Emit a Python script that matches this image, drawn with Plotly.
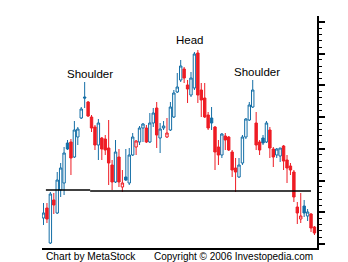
import plotly.graph_objects as go

# ---- data (arbitrary price units) ----
day = list(range(1, 81))
open_ = [32, 42, 7, 50, 37, 60, 67, 107, 108, 93, 113, 132, 153, 148, 133, 123, 105, 112, 111, 102,
         85, 68, 93, 63, 73, 67, 95, 103, 108, 122, 122, 108, 127, 142, 112, 122, 113, 120, 133, 158,
         170, 181, 165, 155, 162, 197, 160, 152, 135, 132, 123, 103, 95, 114, 113, 98, 82, 73, 87, 113,
         130, 143, 127, 108, 112, 108, 120, 101, 95, 94, 104, 90, 84, 78, 43, 31, 44, 34, 36, 23]
high = [47, 47, 58, 57, 78, 87, 103, 110, 111, 129, 123, 143, 168, 149, 135, 125, 131, 113, 115, 130,
        90, 110, 101, 80, 101, 102, 117, 110, 124, 127, 125, 137, 142, 148, 127, 129, 132, 148, 160, 177,
        190, 183, 170, 178, 198, 200, 167, 167, 138, 143, 124, 110, 117, 117, 114, 100, 92, 92, 115, 132,
        148, 170, 138, 110, 115, 129, 123, 103, 102, 102, 105, 95, 87, 80, 48, 57, 50, 41, 37, 24]
low = [25, 27, 6, 36, 36, 53, 55, 100, 75, 92, 105, 131, 142, 133, 118, 100, 90, 90, 95, 65,
       60, 67, 63, 58, 69, 65, 94, 95, 105, 108, 107, 107, 123, 102, 97, 120, 112, 119, 132, 157,
       168, 167, 147, 153, 160, 147, 133, 132, 120, 120, 80, 85, 92, 100, 99, 73, 58, 72, 85, 111,
       129, 142, 100, 95, 105, 107, 92, 83, 92, 88, 80, 67, 75, 48, 26, 27, 33, 29, 18, 15]
close = [37, 31, 56, 45, 70, 82, 97, 101, 92, 120, 121, 141, 152, 134, 122, 105, 127, 101, 100, 87,
         68, 98, 68, 67, 70, 95, 113, 109, 122, 126, 108, 127, 137, 115, 121, 124, 117, 143, 157, 163,
         184, 172, 161, 172, 196, 155, 150, 133, 122, 127, 98, 95, 116, 110, 100, 80, 78, 85, 113, 131,
         145, 160, 105, 100, 107, 127, 102, 93, 101, 102, 89, 82, 80, 53, 37, 34, 37, 38, 22, 17]

neck_x = [1.7, 14.6, 79.0]      # neckline segment breakpoints (day units)
neck_y = [60, 59]               # neckline levels per segment

labels = ["Shoulder", "Head", "Shoulder"]
label_x = [14.5, 43.7, 63.3]
label_y = [176.5, 210.5, 178.5]

BLUE = "#146ea6"
RED = "#ee1c24"

n = len(day)
blue_idx = [i for i in range(n) if i == 0 or close[i] >= close[i - 1]]
red_idx = [i for i in range(n) if i not in blue_idx]


def sub(arr, idx):
    return [arr[i] for i in idx]


fig = go.Figure()
for idx, col in ((blue_idx, BLUE), (red_idx, RED)):
    fig.add_trace(go.Candlestick(
        x=sub(day, idx), open=sub(open_, idx), high=sub(high, idx),
        low=sub(low, idx), close=sub(close, idx),
        increasing=dict(line=dict(color=col, width=1), fillcolor="white"),
        decreasing=dict(line=dict(color=col, width=1), fillcolor=col),
        whiskerwidth=0, showlegend=False, hoverinfo="skip",
    ))

for k in range(len(neck_y)):
    fig.add_shape(type="line", x0=neck_x[k], x1=neck_x[k + 1], y0=neck_y[k], y1=neck_y[k],
                  line=dict(color="black", width=1.3), layer="above")

for t, xx, yy in zip(labels, label_x, label_y):
    fig.add_annotation(x=xx, y=yy, text=t, showarrow=False,
                       font=dict(family="Liberation Sans, Arial", size=11.5, color="black"))

fig.add_annotation(xref="paper", yref="paper", x=0.008, y=-0.037, xanchor="left", yanchor="middle",
                   text="Chart by MetaStock", showarrow=False,
                   font=dict(family="Liberation Sans, Arial", size=10.2, color="black"))
fig.add_annotation(xref="paper", yref="paper", x=0.4, y=-0.037, xanchor="left", yanchor="middle",
                   text="Copyright © 2006 Investopedia.com", showarrow=False,
                   font=dict(family="Liberation Sans, Arial", size=10, color="black"))

fig.update_layout(
    width=348, height=262,
    margin=dict(l=42, r=31, t=16, b=14),
    paper_bgcolor="white", plot_bgcolor="white",
    boxgap=0.0,
    xaxis=dict(range=[0.56, 80.74], rangeslider=dict(visible=False), showline=True,
               linecolor="black", linewidth=1.5, ticks="", showticklabels=False,
               showgrid=False, zeroline=False),
    yaxis=dict(range=[2, 234], side="right", showline=True, linecolor="black", linewidth=1.5,
               ticks="outside", ticklen=6, tickwidth=1.5, tickcolor="black",
               tick0=6, dtick=31.71, showticklabels=False, showgrid=False, zeroline=False,
               minor=dict(ticks="outside", ticklen=3, tickwidth=1, tickcolor="black",
                          dtick=6.342, showgrid=False)),
)

fig.write_html("out.html")
